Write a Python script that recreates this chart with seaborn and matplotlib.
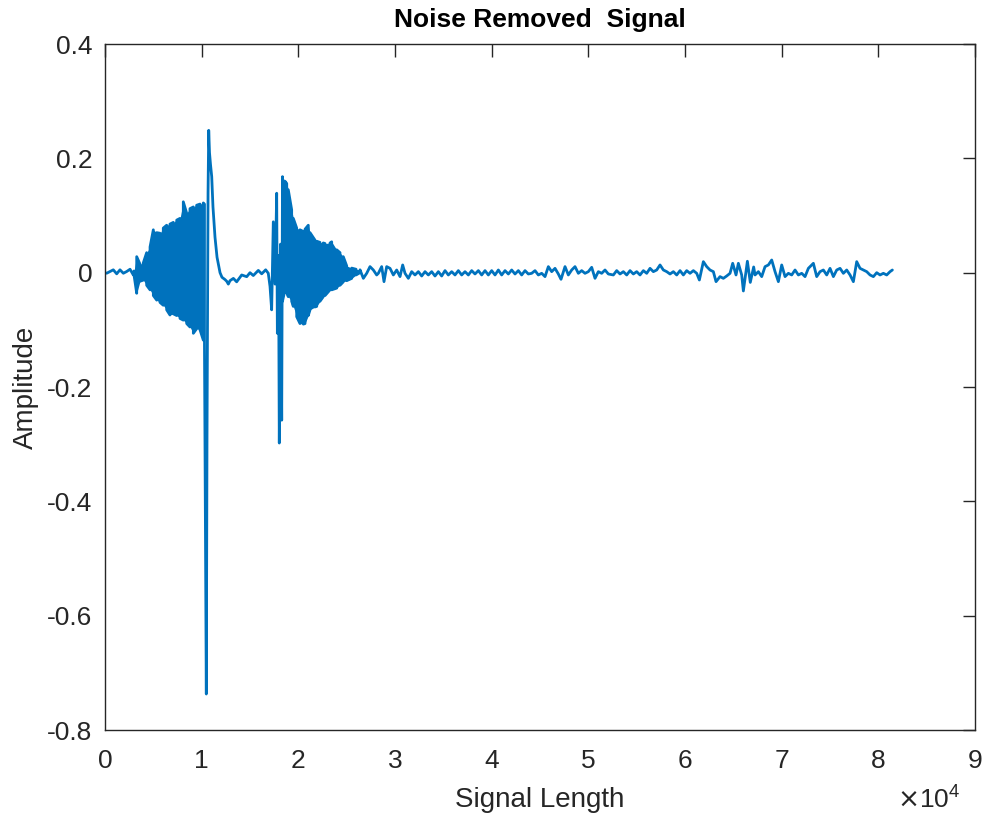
import numpy as np
import pandas as pd
import matplotlib
matplotlib.use("Agg")
import matplotlib.pyplot as plt
import seaborn as sns
from matplotlib.ticker import FixedLocator, FixedFormatter

# ---------------- data ----------------
# quiet lead-in before first burst
lead_x = [0, 170, 520, 860, 1210, 1550, 1900, 2240, 2590, 2930]
lead_y = [0.0, -0.001, 0.002, 0.005, -0.002, 0.005, -0.001, 0.002, 0.006, -0.004]

# first burst envelope
b1_x = [3000, 3280, 3620, 3960, 4310, 4660, 5000, 5350, 5690, 6030, 6380, 6720,
        7070, 7420, 7760, 8100, 8450, 8790, 9140, 9480, 9830, 10170, 10290]
b1_top = [0.003, 0.028, 0.015, 0.017, 0.035, 0.045, 0.075, 0.070, 0.069, 0.078, 0.083, 0.085,
          0.088, 0.092, 0.095, 0.124, 0.104, 0.112, 0.115, 0.118, 0.120, 0.122, 0.120]
b1_bot = [-0.004, -0.036, -0.015, -0.013, -0.022, -0.030, -0.040, -0.048, -0.052, -0.057, -0.065, -0.074,
          -0.072, -0.075, -0.080, -0.083, -0.089, -0.095, -0.106, -0.098, -0.100, -0.118, -0.125]

# spikes after the first burst and decay
s1_x = [10480, 10550, 10660, 10730, 10810, 10910, 11040, 11170, 11380, 11590, 11900, 12100,
        12410, 12590, 12760, 12930]
s1_y = [-0.737, -0.300, 0.139, 0.249, 0.210, 0.190, 0.168, 0.115, 0.062, 0.027, 0.000, -0.008,
        -0.012, -0.015, -0.020, -0.014]

# quiet gap between bursts
gap_x = [13280, 13620, 14140, 14660, 15000, 15340, 15860, 16210, 16620, 16890]
gap_y = [-0.010, -0.016, -0.004, -0.007, 0.000, -0.005, 0.004, -0.002, 0.005, -0.001]

# spikes at start of the second burst
s2_x = [17070, 17240, 17410, 17590, 17760, 17830, 17950, 18030, 18160, 18280]
s2_y = [-0.024, -0.065, 0.089, -0.020, 0.139, -0.106, 0.030, -0.298, 0.050, -0.258]

# second burst envelope
b2_x = [18360, 18620, 18800, 18960, 19310, 19480, 19830, 20170, 20520, 20690, 21030, 21210,
        21720, 21900, 22240, 22580, 22760, 23280, 23450, 23970, 24310, 24650, 25000, 25520,
        25970, 26380]
b2_top = [0.168, 0.160, 0.156, 0.145, 0.110, 0.095, 0.078, 0.075, 0.072, 0.076, 0.083, 0.070,
          0.057, 0.055, 0.053, 0.052, 0.051, 0.052, 0.054, 0.040, 0.035, 0.028, 0.012, 0.008,
          0.006, 0.005]
b2_bot = [-0.050, -0.030, -0.035, -0.042, -0.050, -0.059, -0.077, -0.089, -0.090, -0.089, -0.075, -0.065,
          -0.060, -0.059, -0.050, -0.042, -0.040, -0.030, -0.030, -0.027, -0.022, -0.016, -0.014, -0.010,
          -0.004, 0.000]

# low-level tail
tail_x = [26725, 27070, 27414, 27759, 28104, 28276, 28621, 28862, 29138, 29483, 29828, 30173,
          30518, 30793, 31035, 31380, 31724, 32069, 32414, 32759, 33104, 33448, 33793, 34138,
          34483, 34827, 35172, 35517, 35862, 36207, 36551, 36896, 37241, 37586, 37931, 38275,
          38621, 38966, 39310, 39655, 40000, 40345, 40690, 41034, 41379, 41724, 42069, 42414,
          42758, 43103, 43448, 43793, 44138, 44482, 44827, 45172, 45517, 45862, 46206, 46551,
          46896, 47172, 47586, 47930, 48275, 48620, 48965, 49310, 49654, 49999, 50344, 50689,
          51034, 51378, 51723, 52068, 52587, 52932, 53276, 53621, 53966, 54311, 54656, 55000,
          55345, 55690, 56035, 56380, 56724, 57069, 57414, 57759, 58104, 58448, 58793, 59138,
          59483, 59828, 60172, 60517, 60862, 61207, 61483, 61896, 62241, 62586, 62931, 63207,
          63620, 63965, 64310, 64655, 64931, 65275, 65517, 65862, 66034, 66450, 66750, 67100,
          67242, 67587, 67932, 68277, 68622, 68966, 69311, 69656, 70001, 70346, 70690, 71035,
          71380, 71725, 72070, 72414, 72759, 73276, 73621, 73966, 74311, 74656, 75000, 75345,
          75690, 76035, 76380, 76724, 77069, 77414, 77759, 78104, 78448, 78793, 79138, 79483,
          79828, 80172, 80517, 80862, 81207, 81449]
tail_y = [-0.0099, -0.0011, 0.0106, 0.0047, -0.0040, -0.0011, 0.0106, -0.0157, 0.0106, 0.0076, -0.0040, 0.0047,
          -0.0069, 0.0135, -0.0011, -0.0099, 0.0018, -0.0040, 0.0018, -0.0058, 0.0018, -0.0040, 0.0018, -0.0058,
          0.0018, -0.0058, 0.0036, -0.0040, 0.0018, -0.0040, 0.0036, -0.0040, 0.0018, -0.0040, 0.0036, -0.0023,
          0.0036, -0.0040, 0.0036, -0.0040, 0.0036, -0.0040, 0.0047, -0.0040, 0.0036, -0.0023, 0.0047, -0.0023,
          0.0036, -0.0040, 0.0036, -0.0023, -0.0011, 0.0036, -0.0040, -0.0011, -0.0069, 0.0106, 0.0018, 0.0076,
          -0.0023, -0.0116, 0.0106, -0.0040, 0.0047, 0.0106, -0.0011, 0.0036, -0.0011, 0.0018, 0.0094, -0.0099,
          0.0018, -0.0011, 0.0047, -0.0023, -0.0040, 0.0036, -0.0023, 0.0018, -0.0040, 0.0036, -0.0023, 0.0018,
          -0.0040, 0.0036, -0.0011, 0.0076, 0.0018, 0.0047, 0.0135, 0.0047, 0.0018, -0.0023, 0.0018, -0.0040,
          0.0036, -0.0040, 0.0036, -0.0011, 0.0036, -0.0011, -0.0128, 0.0193, 0.0106, 0.0047, 0.0018, -0.0157,
          -0.0069, -0.0099, -0.0058, -0.0011, 0.0164, -0.0040, 0.0164, -0.0040, -0.0320, 0.0200, -0.0170, 0.0100,
          -0.0040, 0.0018, -0.0069, 0.0106, 0.0135, 0.0222, 0.0018, -0.0157, 0.0135, -0.0069, -0.0011, -0.0040,
          0.0047, -0.0040, -0.0011, -0.0069, 0.0076, 0.0164, -0.0069, 0.0018, 0.0047, -0.0040, 0.0076, -0.0069,
          0.0047, 0.0076, -0.0011, 0.0047, -0.0040, -0.0157, 0.0193, 0.0076, 0.0047, 0.0018, -0.0040, -0.0069,
          0.0000, -0.0040, -0.0011, -0.0040, 0.0018, 0.0047]

x_ticks = [0, 10000, 20000, 30000, 40000, 50000, 60000, 70000, 80000, 90000]
x_tick_labels = ["0", "1", "2", "3", "4", "5", "6", "7", "8", "9"]
y_ticks = [-0.8, -0.6, -0.4, -0.2, 0.0, 0.2, 0.4]
y_tick_labels = ["-0.8", "-0.6", "-0.4", "-0.2", "0", "0.2", "0.4"]


def zigzag(xs, tops, bots):
    px, py = [], []
    for i, (xv, t, b) in enumerate(zip(xs, tops, bots)):
        if i % 2 == 0:
            px += [xv, xv]; py += [t, b]
        else:
            px += [xv, xv]; py += [b, t]
    return px, py


z1x, z1y = zigzag(b1_x, b1_top, b1_bot)
z2x, z2y = zigzag(b2_x, b2_top, b2_bot)

all_x = lead_x + z1x + s1_x + gap_x + s2_x + z2x + tail_x
all_y = lead_y + z1y + s1_y + gap_y + s2_y + z2y + tail_y
df = pd.DataFrame({"sample": all_x, "amp": all_y})

# ---------------- plotting ----------------
sns.set_theme(style="white")
plt.rcParams["font.family"] = ["Liberation Sans", "DejaVu Sans"]
plt.rcParams["axes.unicode_minus"] = False

fig = plt.figure(figsize=(9.84, 8.21), dpi=100)
ax = fig.add_axes([0.1067, 0.1108, 0.8842, 0.8356])

color = "#0072BD"
ax.fill_between(b1_x, b1_bot, b1_top, color=color, linewidth=0)
ax.fill_between(b2_x, b2_bot, b2_top, color=color, linewidth=0)
sns.lineplot(data=df, x="sample", y="amp", sort=False, estimator=None,
             color=color, linewidth=2.0, ax=ax)

ax.set_xlim(0, 90000)
ax.set_ylim(-0.8, 0.4)
ax.xaxis.set_major_locator(FixedLocator(x_ticks))
ax.xaxis.set_major_formatter(FixedFormatter(x_tick_labels))
ax.yaxis.set_major_locator(FixedLocator(y_ticks))
ax.yaxis.set_major_formatter(FixedFormatter(y_tick_labels))

axcol = "#262626"
for sp in ax.spines.values():
    sp.set_visible(True)
    sp.set_color(axcol)
    sp.set_linewidth(1.0)
ax.tick_params(direction="in", length=9, width=1.0, color=axcol,
               top=True, right=True, labelsize=19, labelcolor=axcol)
ax.tick_params(axis="x", pad=14)
ax.tick_params(axis="y", pad=9)

ax.set_title("Noise Removed  Signal", fontsize=19, fontweight="bold", color="black", pad=12)
ax.set_xlabel("Signal Length", fontsize=20, color=axcol, labelpad=10)
ax.set_ylabel("Amplitude", fontsize=20, color=axcol, labelpad=6)
ax.text(0.983, -0.102, r"$\times\mathregular{10^{4}}$", transform=ax.transAxes,
        ha="right", va="center", fontsize=19, color=axcol)

fig.savefig("out.png", dpi=100, facecolor="white")
